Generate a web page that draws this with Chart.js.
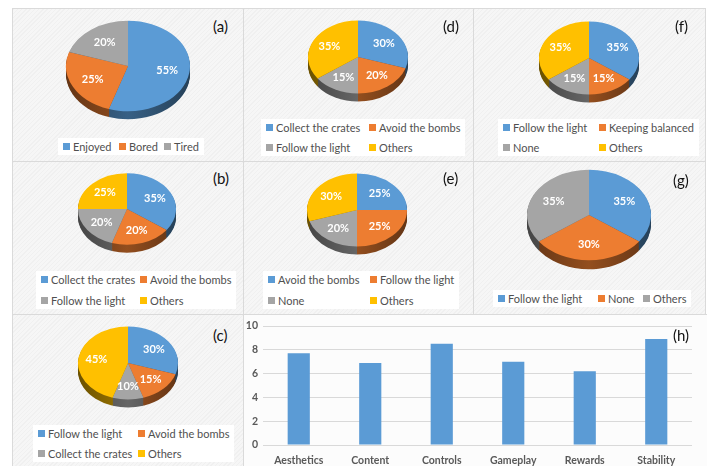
<!DOCTYPE html>
<html>
<head>
<meta charset="utf-8">
<script src="https://cdn.jsdelivr.net/npm/chart.js@4"></script>
<style>
body { margin: 0; background: #fff; font-family: Lato, "Open Sans", sans-serif; }
#fig { position: relative; width: 707px; height: 466px; overflow: hidden; background: #fff; }
.panel { position: absolute; box-sizing: border-box; border: 1px solid #dadada;
  background: repeating-linear-gradient(135deg, #f0f0f0 0 1px, #f6f6f6 1px 3px); }
.panel.plain { background: #fcfcfc; }
.tag { position: absolute; font-size: 15px; line-height: 15px; color: #111; }
.legend { position: absolute; background: #fff; font-size: 11px; line-height: 13px; color: #505050;
  padding: 2px 5px; display: grid; }
.item { white-space: nowrap; display: flex; align-items: center; }
.item i { display: inline-block; width: 7px; height: 7px; margin-right: 3px; }
canvas { position: absolute; }
</style>
</head>
<body>
<div id="fig"></div>
<script>
// slice colours (Office palette)
var colors = ['#5B9BD5', '#ED7D31', '#A5A5A5', '#FFC000'];

var labelsA = ['Enjoyed', 'Bored', 'Tired'];
var valuesA = [55, 25, 20];
var labelsB = ['Collect the crates', 'Avoid the bombs', 'Follow the light', 'Others'];
var valuesB = [35, 20, 20, 25];
var labelsC = ['Follow the light', 'Avoid the bombs', 'Collect the crates', 'Others'];
var valuesC = [30, 15, 10, 45];
var labelsD = ['Collect the crates', 'Avoid the bombs', 'Follow the light', 'Others'];
var valuesD = [30, 20, 15, 35];
var labelsE = ['Avoid the bombs', 'Follow the light', 'None', 'Others'];
var valuesE = [25, 25, 20, 30];
var labelsF = ['Follow the light', 'Keeping balanced', 'None', 'Others'];
var valuesF = [35, 15, 15, 35];
var labelsG = ['Follow the light', 'None', 'Others'];
var valuesG = [35, 30, 35];

var ratingCats = ['Aesthetics', 'Content', 'Controls', 'Gameplay', 'Rewards', 'Stability'];
var ratings = [7.7, 6.9, 8.5, 7.0, 6.2, 8.9];
var ratingTicks = [0, 2, 4, 6, 8, 10];

var SQUASH = 0.73;

// panel boxes: left, top, width, height
var panels = [
  { box: [12, 8, 232, 154], tag: '(a)', tagAt: [213, 19] },
  { box: [243, 8, 231, 154], tag: '(d)', tagAt: [443, 19] },
  { box: [473, 8, 233, 154], tag: '(f)', tagAt: [675, 19] },
  { box: [12, 161, 232, 154], tag: '(b)', tagAt: [213, 171] },
  { box: [243, 161, 231, 154], tag: '(e)', tagAt: [443, 171] },
  { box: [473, 161, 233, 154], tag: '(g)', tagAt: [673, 173] },
  { box: [12, 314, 232, 160], tag: '(c)', tagAt: [213, 328] },
  { box: [243, 314, 470, 160], tag: '(h)', tagAt: [673, 328], plain: true }
];

var pies = [
  { labels: labelsA, values: valuesA, cx: 127.5, top: 21, r: 62, depth: 8, leg: { x: 63, y: 146, cols: [56, 45], step: 20 } },
  { labels: labelsD, values: valuesD, cx: 357.5, top: 20, r: 50, depth: 8, leg: { x: 266, y: 127, cols: [103], step: 20 } },
  { labels: labelsF, values: valuesF, cx: 588.5, top: 21, r: 50, depth: 8, leg: { x: 503, y: 127, cols: [96], step: 20 } },
  { labels: labelsB, values: valuesB, cx: 127, top: 173, r: 49, depth: 8, leg: { x: 41, y: 279, cols: [99], step: 21 } },
  { labels: labelsE, values: valuesE, cx: 357, top: 173, r: 50, depth: 8, leg: { x: 268, y: 279, cols: [102], step: 21 } },
  { labels: labelsG, values: valuesG, cx: 588.5, top: 170, r: 62, depth: 9, leg: { x: 498, y: 298, cols: [100, 45], step: 20 } },
  { labels: labelsC, values: valuesC, cx: 128, top: 326, r: 50, depth: 8, leg: { x: 38, y: 433, cols: [100], step: 20 } }
];

var fig = document.getElementById('fig');

panels.forEach(function(p) {
  var d = document.createElement('div');
  d.className = 'panel' + (p.plain ? ' plain' : '');
  d.style.left = p.box[0] + 'px'; d.style.top = p.box[1] + 'px';
  d.style.width = p.box[2] + 'px'; d.style.height = p.box[3] + 'px';
  fig.appendChild(d);
});

function shade(hex, f) {
  var n = parseInt(hex.slice(1), 16);
  return 'rgb(' + Math.round((n >> 16 & 255) * f) + ',' + Math.round((n >> 8 & 255) * f) + ',' + Math.round((n & 255) * f) + ')';
}

// squashes the pie into an ellipse and extrudes a darker rim below it
var tilt = {
  id: 'tilt',
  beforeDatasetsDraw: function(chart, args, opts) {
    var ctx = chart.ctx, meta = chart.getDatasetMeta(0);
    var cx = meta.data[0].x, cy = meta.data[0].y, k = opts.squash;
    var fills = chart.data.datasets[0].backgroundColor;
    ctx.save();
    ctx.translate(cx, cy); ctx.scale(1, k); ctx.translate(-cx, -cy);
    for (var d = opts.depth; d > 0; d--) {
      meta.data.forEach(function(arc, i) {
        var R = arc.outerRadius;
        var g = ctx.createLinearGradient(cx - R, 0, cx + R, 0);
        g.addColorStop(0, shade(fills[i], 0.42));
        g.addColorStop(0.5, shade(fills[i], 0.62));
        g.addColorStop(1, shade(fills[i], 0.42));
        ctx.fillStyle = g;
        ctx.beginPath();
        ctx.moveTo(cx, cy + d / k);
        ctx.arc(cx, cy + d / k, R, arc.startAngle, arc.endAngle);
        ctx.closePath();
        ctx.fill();
      });
    }
  },
  afterDatasetsDraw: function(chart, args, opts) {
    var ctx = chart.ctx, meta = chart.getDatasetMeta(0);
    ctx.restore();
    var cx = meta.data[0].x, cy = meta.data[0].y, k = opts.squash;
    var vals = chart.data.datasets[0].data;
    ctx.save();
    ctx.fillStyle = '#fff';
    ctx.font = 'bold 11px Lato, sans-serif';
    ctx.textAlign = 'center';
    ctx.textBaseline = 'middle';
    meta.data.forEach(function(arc, i) {
      var mid = (arc.startAngle + arc.endAngle) / 2, r = arc.outerRadius * opts.labelAt;
      ctx.fillText(vals[i] + '%', cx + Math.cos(mid) * r, cy + Math.sin(mid) * r * k);
    });
    ctx.restore();
  }
};

pies.forEach(function(p) {
  var size = 2 * p.r + 4;
  var cy = p.top + p.r * SQUASH;
  var cv = document.createElement('canvas');
  cv.width = size; cv.height = size;
  cv.style.left = (p.cx - size / 2) + 'px';
  cv.style.top = (cy - size / 2) + 'px';
  fig.appendChild(cv);
  new Chart(cv, {
    type: 'pie',
    data: {
      labels: p.labels,
      datasets: [{ data: p.values, backgroundColor: colors.slice(0, p.values.length), borderWidth: 0, clip: false }]
    },
    options: {
      responsive: false,
      animation: false,
      layout: { padding: 2 },
      plugins: {
        legend: { display: false },
        tooltip: { enabled: false },
        tilt: { squash: SQUASH, depth: p.depth, labelAt: 0.64 }
      }
    },
    plugins: [tilt]
  });

  // legend laid out in fixed columns
  var box = document.createElement('div');
  box.className = 'legend';
  box.style.left = (p.leg.x - 5) + 'px';
  box.style.top = (p.leg.y - 8.5) + 'px';
  box.style.gridTemplateColumns = p.leg.cols.map(function(w) { return w + 'px'; }).join(' ') + ' auto';
  box.style.rowGap = (p.leg.step - 13) + 'px';
  p.labels.forEach(function(l, i) {
    var it = document.createElement('div');
    it.className = 'item';
    it.innerHTML = '<i style="background:' + colors[i] + '"></i>' + l;
    box.appendChild(it);
  });
  fig.appendChild(box);
});

// (h) rating bars
var bc = document.createElement('canvas');
bc.width = 464; bc.height = 152;
bc.style.left = '243px'; bc.style.top = '314px';
fig.appendChild(bc);
var tickFont = { family: 'Lato, sans-serif', size: 10.5, weight: 'bold' };
new Chart(bc, {
  type: 'bar',
  data: {
    labels: ratingCats,
    datasets: [{ data: ratings, backgroundColor: '#5B9BD5', barPercentage: 0.31, categoryPercentage: 1 }]
  },
  options: {
    responsive: false,
    animation: false,
    layout: { padding: { left: 0, right: 15, top: 12, bottom: 0 } },
    plugins: { legend: { display: false }, tooltip: { enabled: false } },
    scales: {
      x: {
        grid: { display: false, drawTicks: false },
        border: { display: false },
        ticks: { color: '#595959', font: tickFont, padding: 9, maxRotation: 0 },
        afterFit: function(s) { s.height = 21; }
      },
      y: {
        min: 0, max: 10,
        afterBuildTicks: function(s) { s.ticks = ratingTicks.map(function(v) { return { value: v }; }); },
        grid: { color: '#d9d9d9', drawTicks: false },
        border: { display: false },
        ticks: { color: '#595959', font: tickFont, padding: 5 },
        afterFit: function(s) { s.width = 20; }
      }
    }
  }
});

panels.forEach(function(p) {
  var t = document.createElement('div');
  t.className = 'tag';
  t.textContent = p.tag;
  t.style.left = p.tagAt[0] + 'px'; t.style.top = p.tagAt[1] + 'px';
  fig.appendChild(t);
});
</script>
</body>
</html>
